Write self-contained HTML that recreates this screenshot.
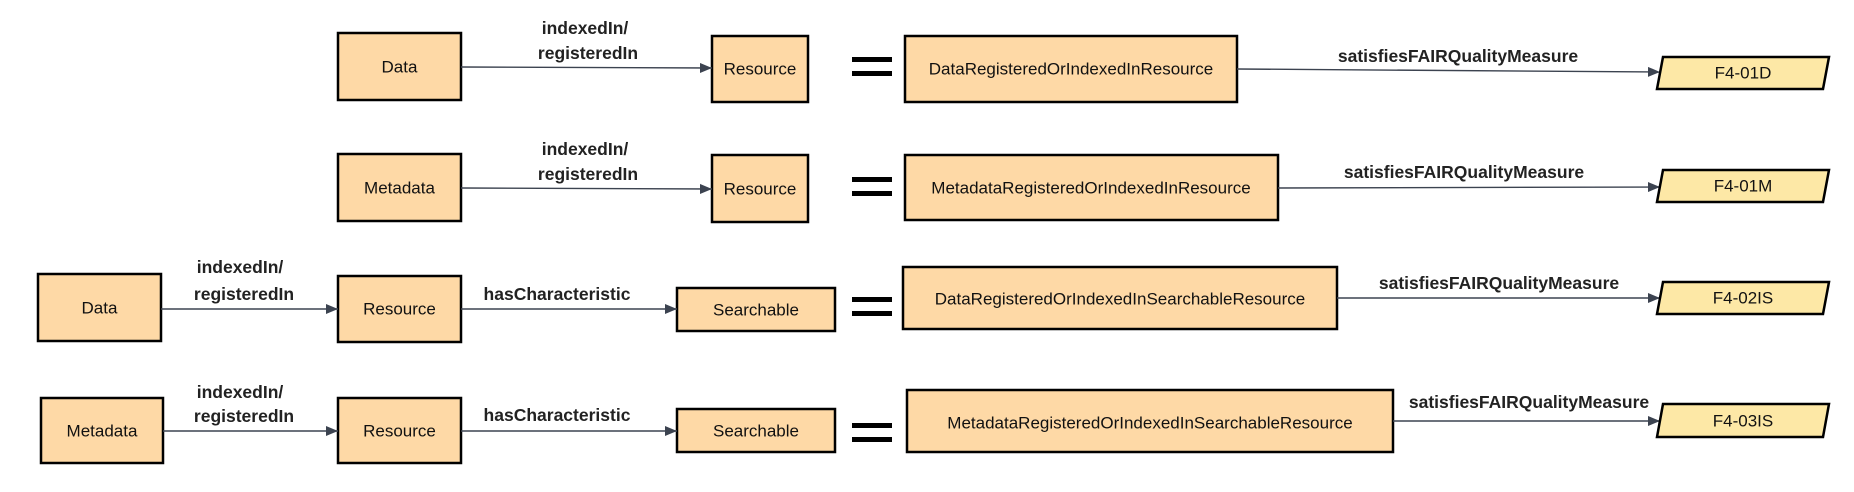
<!DOCTYPE html>
<html><head><meta charset="utf-8"><style>
html,body{margin:0;padding:0;background:#fff;}
svg{display:block;}
text{font-family:"Liberation Sans",sans-serif;}
.n{fill:#fed9a6;stroke:#000;stroke-width:2.5;}
.p{fill:#fde8a6;stroke:#000;stroke-width:2.5;}
.t{font-size:17px;fill:#111;text-anchor:middle;dominant-baseline:central;}
.l{font-size:17.5px;font-weight:bold;fill:#222;text-anchor:middle;}
.e{stroke:#3c4350;stroke-width:1.4;fill:none;}
.eq{fill:#000;}
</style></head><body>
<svg width="1854" height="492" viewBox="0 0 1854 492" xmlns="http://www.w3.org/2000/svg">
<defs><marker id="a" markerWidth="12" markerHeight="10" refX="12" refY="5" orient="auto" markerUnits="userSpaceOnUse"><path d="M0,0 L12,5 L0,10 z" fill="#3c4350"/></marker></defs>

<!-- Row 1 -->
<rect class="n" x="338" y="33" width="123" height="67"/><text class="t" x="399.5" y="67">Data</text>
<rect class="n" x="712" y="36" width="96" height="66"/><text class="t" x="760" y="69">Resource</text>
<path class="e" d="M461,67 L712,68" marker-end="url(#a)"/>
<text class="l" x="585" y="34">indexedIn/</text><text class="l" x="588" y="59">registeredIn</text>
<rect class="eq" x="852" y="57" width="40" height="5"/><rect class="eq" x="852" y="71" width="40" height="5"/>
<rect class="n" x="905" y="36" width="332" height="66"/><text class="t" x="1071" y="69">DataRegisteredOrIndexedInResource</text>
<path class="e" d="M1237,69 L1660,72" marker-end="url(#a)"/>
<text class="l" x="1458" y="62">satisfiesFAIRQualityMeasure</text>
<polygon class="p" points="1663,57 1829,57 1823,89 1657,89"/><text class="t" x="1743" y="73">F4-01D</text>

<!-- Row 2 -->
<rect class="n" x="338" y="154" width="123" height="67"/><text class="t" x="399.5" y="188">Metadata</text>
<rect class="n" x="712" y="155" width="96" height="67"/><text class="t" x="760" y="189">Resource</text>
<path class="e" d="M461,188 L712,189" marker-end="url(#a)"/>
<text class="l" x="585" y="155">indexedIn/</text><text class="l" x="588" y="180">registeredIn</text>
<rect class="eq" x="852" y="177" width="40" height="5"/><rect class="eq" x="852" y="191" width="40" height="5"/>
<rect class="n" x="905" y="155" width="373" height="65"/><text class="t" x="1091" y="188">MetadataRegisteredOrIndexedInResource</text>
<path class="e" d="M1278,188 L1660,187" marker-end="url(#a)"/>
<text class="l" x="1464" y="178">satisfiesFAIRQualityMeasure</text>
<polygon class="p" points="1663,170 1829,170 1823,202 1657,202"/><text class="t" x="1743" y="186">F4-01M</text>

<!-- Row 3 -->
<rect class="n" x="38" y="274" width="123" height="67"/><text class="t" x="99.5" y="308">Data</text>
<rect class="n" x="338" y="276" width="123" height="66"/><text class="t" x="399.5" y="309">Resource</text>
<path class="e" d="M161,309 L338,309" marker-end="url(#a)"/>
<text class="l" x="240" y="273">indexedIn/</text><text class="l" x="244" y="300">registeredIn</text>
<rect class="n" x="677" y="288" width="158" height="43"/><text class="t" x="756" y="310">Searchable</text>
<path class="e" d="M461,309 L677,309" marker-end="url(#a)"/>
<text class="l" x="557" y="300">hasCharacteristic</text>
<rect class="eq" x="852" y="297" width="40" height="5"/><rect class="eq" x="852" y="311" width="40" height="5"/>
<rect class="n" x="903" y="267" width="434" height="62"/><text class="t" x="1120" y="299">DataRegisteredOrIndexedInSearchableResource</text>
<path class="e" d="M1337,298 L1660,298" marker-end="url(#a)"/>
<text class="l" x="1499" y="289">satisfiesFAIRQualityMeasure</text>
<polygon class="p" points="1663,282 1829,282 1823,314 1657,314"/><text class="t" x="1743" y="298">F4-02IS</text>

<!-- Row 4 -->
<rect class="n" x="41" y="398" width="122" height="65"/><text class="t" x="102" y="431">Metadata</text>
<rect class="n" x="338" y="398" width="123" height="65"/><text class="t" x="399.5" y="431">Resource</text>
<path class="e" d="M163,431 L338,431" marker-end="url(#a)"/>
<text class="l" x="240" y="398">indexedIn/</text><text class="l" x="244" y="422">registeredIn</text>
<rect class="n" x="677" y="409" width="158" height="43"/><text class="t" x="756" y="431">Searchable</text>
<path class="e" d="M461,431 L677,431" marker-end="url(#a)"/>
<text class="l" x="557" y="421">hasCharacteristic</text>
<rect class="eq" x="852" y="423" width="40" height="5"/><rect class="eq" x="852" y="437" width="40" height="5"/>
<rect class="n" x="907" y="390" width="486" height="62"/><text class="t" x="1150" y="423">MetadataRegisteredOrIndexedInSearchableResource</text>
<path class="e" d="M1393,421 L1660,421" marker-end="url(#a)"/>
<text class="l" x="1529" y="408">satisfiesFAIRQualityMeasure</text>
<polygon class="p" points="1663,404 1829,404 1823,437 1657,437"/><text class="t" x="1743" y="421">F4-03IS</text>
</svg>
</body></html>
